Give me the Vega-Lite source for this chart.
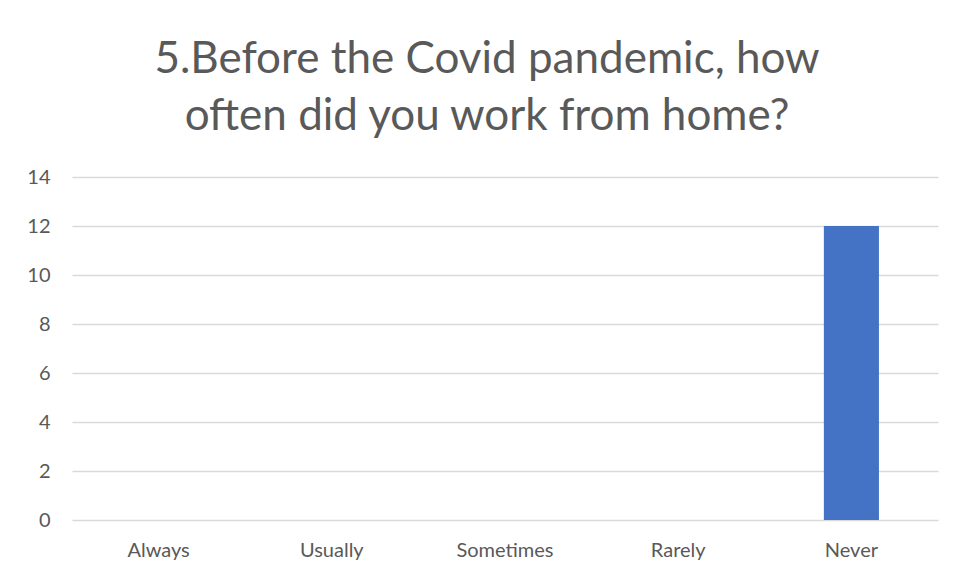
{
  "$schema": "https://vega.github.io/schema/vega-lite/v6.json",
  "autosize": {"type": "none"},
  "width": 866,
  "height": 343,
  "padding": {"left": 72, "top": 177, "right": 21, "bottom": 59},
  "background": "white",
  "title": {
    "text": ["5.Before the Covid pandemic, how", "often did you work from home?"],
    "font": "Lato",
    "fontSize": 44,
    "fontWeight": "normal",
    "color": "#595959",
    "anchor": "middle",
    "dx": -18,
    "offset": 28,
    "lineHeight": 57
  },
  "data": {
    "values": [
      {"answer": "Always", "count": 0},
      {"answer": "Usually", "count": 0},
      {"answer": "Sometimes", "count": 0},
      {"answer": "Rarely", "count": 0},
      {"answer": "Never", "count": 12}
    ]
  },
  "mark": {"type": "bar", "color": "#4472C4"},
  "encoding": {
    "x": {
      "field": "answer",
      "type": "nominal",
      "sort": null,
      "scale": {"paddingInner": 0.682, "paddingOuter": 0.341},
      "axis": {
        "title": null,
        "labelAngle": 0,
        "domain": false,
        "ticks": false,
        "labelPadding": 20,
        "labelFont": "Lato",
        "labelFontSize": 20,
        "labelColor": "#595959"
      }
    },
    "y": {
      "field": "count",
      "type": "quantitative",
      "scale": {"domain": [0, 14], "nice": false},
      "axis": {
        "title": null,
        "values": [0, 2, 4, 6, 8, 10, 12, 14],
        "domain": false,
        "ticks": false,
        "labelPadding": 22,
        "labelFont": "Lato",
        "labelFontSize": 20,
        "labelColor": "#595959",
        "gridColor": "#d9d9d9",
        "gridWidth": 1.5
      }
    }
  },
  "config": {"view": {"stroke": null}}
}
